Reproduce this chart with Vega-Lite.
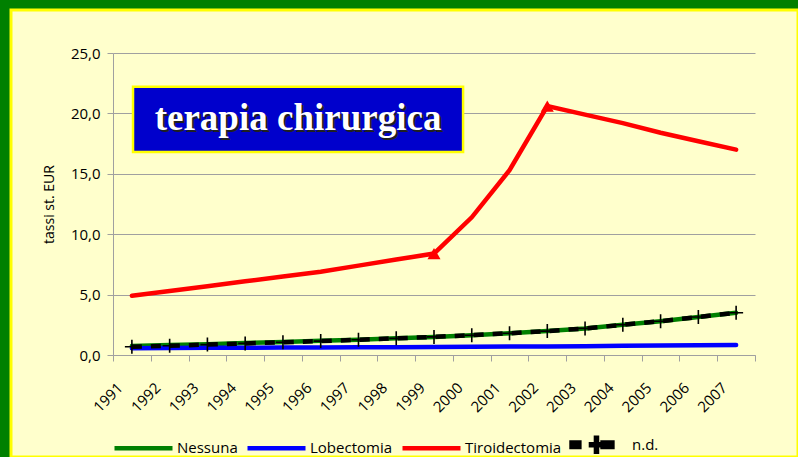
{
  "$schema": "https://vega.github.io/schema/vega-lite/v6.json",
  "autosize": {"type": "none"},
  "padding": {"left": 11, "top": 10, "right": 0, "bottom": 0},
  "width": 787,
  "height": 447,
  "background": "#008000",
  "config": {
    "view": {"fill": "#FFFFCC", "stroke": "#FFFF00", "strokeWidth": 3},
    "font": "Open Sans"
  },
  "datasets": {
    "series": [
      {"year": "1991", "series": "Nessuna", "value": 0.75},
      {"year": "1992", "series": "Nessuna", "value": 0.82},
      {"year": "1993", "series": "Nessuna", "value": 0.9},
      {"year": "1994", "series": "Nessuna", "value": 1.0},
      {"year": "1995", "series": "Nessuna", "value": 1.08},
      {"year": "1996", "series": "Nessuna", "value": 1.17},
      {"year": "1997", "series": "Nessuna", "value": 1.27},
      {"year": "1998", "series": "Nessuna", "value": 1.38},
      {"year": "1999", "series": "Nessuna", "value": 1.5},
      {"year": "2000", "series": "Nessuna", "value": 1.64},
      {"year": "2001", "series": "Nessuna", "value": 1.8},
      {"year": "2002", "series": "Nessuna", "value": 1.98},
      {"year": "2003", "series": "Nessuna", "value": 2.2},
      {"year": "2004", "series": "Nessuna", "value": 2.5},
      {"year": "2005", "series": "Nessuna", "value": 2.8},
      {"year": "2006", "series": "Nessuna", "value": 3.15},
      {"year": "2007", "series": "Nessuna", "value": 3.5},
      {"year": "1991", "series": "Lobectomia", "value": 0.55},
      {"year": "1992", "series": "Lobectomia", "value": 0.57},
      {"year": "1993", "series": "Lobectomia", "value": 0.59},
      {"year": "1994", "series": "Lobectomia", "value": 0.6},
      {"year": "1995", "series": "Lobectomia", "value": 0.62},
      {"year": "1996", "series": "Lobectomia", "value": 0.63},
      {"year": "1997", "series": "Lobectomia", "value": 0.64},
      {"year": "1998", "series": "Lobectomia", "value": 0.65},
      {"year": "1999", "series": "Lobectomia", "value": 0.67},
      {"year": "2000", "series": "Lobectomia", "value": 0.68},
      {"year": "2001", "series": "Lobectomia", "value": 0.7},
      {"year": "2002", "series": "Lobectomia", "value": 0.71},
      {"year": "2003", "series": "Lobectomia", "value": 0.73},
      {"year": "2004", "series": "Lobectomia", "value": 0.76},
      {"year": "2005", "series": "Lobectomia", "value": 0.78},
      {"year": "2006", "series": "Lobectomia", "value": 0.81},
      {"year": "2007", "series": "Lobectomia", "value": 0.83},
      {"year": "1991", "series": "Tiroidectomia", "value": 4.9},
      {"year": "1992", "series": "Tiroidectomia", "value": 5.3},
      {"year": "1993", "series": "Tiroidectomia", "value": 5.7},
      {"year": "1994", "series": "Tiroidectomia", "value": 6.1},
      {"year": "1995", "series": "Tiroidectomia", "value": 6.5},
      {"year": "1996", "series": "Tiroidectomia", "value": 6.9},
      {"year": "1997", "series": "Tiroidectomia", "value": 7.4},
      {"year": "1998", "series": "Tiroidectomia", "value": 7.9},
      {"year": "1999", "series": "Tiroidectomia", "value": 8.4},
      {"year": "2000", "series": "Tiroidectomia", "value": 11.4},
      {"year": "2001", "series": "Tiroidectomia", "value": 15.3},
      {"year": "2002", "series": "Tiroidectomia", "value": 20.6},
      {"year": "2003", "series": "Tiroidectomia", "value": 19.9},
      {"year": "2004", "series": "Tiroidectomia", "value": 19.2},
      {"year": "2005", "series": "Tiroidectomia", "value": 18.4},
      {"year": "2006", "series": "Tiroidectomia", "value": 17.7},
      {"year": "2007", "series": "Tiroidectomia", "value": 17.0},
      {"year": "1991", "series": "n.d.", "value": 0.68},
      {"year": "1992", "series": "n.d.", "value": 0.77},
      {"year": "1993", "series": "n.d.", "value": 0.86},
      {"year": "1994", "series": "n.d.", "value": 0.96},
      {"year": "1995", "series": "n.d.", "value": 1.05},
      {"year": "1996", "series": "n.d.", "value": 1.15},
      {"year": "1997", "series": "n.d.", "value": 1.26},
      {"year": "1998", "series": "n.d.", "value": 1.38},
      {"year": "1999", "series": "n.d.", "value": 1.5},
      {"year": "2000", "series": "n.d.", "value": 1.64},
      {"year": "2001", "series": "n.d.", "value": 1.8},
      {"year": "2002", "series": "n.d.", "value": 1.98},
      {"year": "2003", "series": "n.d.", "value": 2.2},
      {"year": "2004", "series": "n.d.", "value": 2.5},
      {"year": "2005", "series": "n.d.", "value": 2.8},
      {"year": "2006", "series": "n.d.", "value": 3.15},
      {"year": "2007", "series": "n.d.", "value": 3.5}
    ],
    "box": [
      {"label": "terapia chirurgica", "x0": "1991", "x1": "2000", "xt": "1995", "y0": 22.2, "y1": 16.8, "ym": 19.5}
    ]
  },
  "layer": [
    {
      "data": {"name": "series"},
      "transform": [{"filter": "datum.series !== 'n.d.'"}],
      "mark": {"type": "line", "strokeWidth": 4.5, "strokeCap": "round"},
      "encoding": {
        "x": {
          "field": "year", "type": "ordinal",
          "scale": {"type": "band", "domain": ["1991","1992","1993","1994","1995","1996","1997","1998","1999","2000","2001","2002","2003","2004","2005","2006","2007"], "range": [102, 744], "paddingInner": 0, "paddingOuter": 0},
          "axis": {
            "title": null, "offset": -102, "grid": false,
            "labelAngle": -45, "labelAlign": "right", "labelBaseline": "middle",
            "labelOffset": -12, "labelPadding": 24, "tickBand": "extent", "tickSize": 6,
            "domainColor": "#A0A0A0", "tickColor": "#A0A0A0",
            "labelFont": "Open Sans", "labelFontSize": 15, "labelColor": "#000000"
          }
        },
        "y": {
          "field": "value", "type": "quantitative",
          "scale": {"domain": [0, 25], "range": [345, 43], "nice": false},
          "axis": {
            "title": "tassi st. EUR", "offset": -102,
            "values": [0, 5, 10, 15, 20, 25],
            "labelExpr": "replace(format(datum.value, '.1f'), '.', ',')",
            "labelFont": "Open Sans", "labelFontSize": 15, "labelColor": "#000000", "labelPadding": 7,
            "tickSize": 6, "grid": true, "gridColor": "#A0A0A0", "domainColor": "#A0A0A0", "tickColor": "#A0A0A0",
            "titleFont": "Open Sans", "titleFontSize": 14, "titleFontWeight": "normal", "titleColor": "#000000", "titlePadding": 14
          }
        },
        "color": {
          "field": "series", "type": "nominal",
          "scale": {"domain": ["Nessuna", "Lobectomia", "Tiroidectomia", "n.d."], "range": ["#008000", "#0000FF", "#FF0000", "#000000"]},
          "legend": {
            "title": null, "orient": "none", "direction": "horizontal",
            "legendX": 101, "legendY": 403, "padding": 0,
            "symbolType": "stroke", "symbolSize": 3364, "symbolStrokeWidth": 4.5,
            "labelFont": "Open Sans", "labelFontSize": 15, "labelColor": "#000000",
            "labelOffset": 2, "columnPadding": 0,
            "encode": {
              "symbols": {
                "update": {
                  "shape": {"signal": "datum.value === 'n.d.' ? 'M-0.93,-0.075H-0.66V0.075H-0.93Z M0.14,-0.075H0.48V0.075H0.14Z M-0.26,-0.018H0.12V0.018H-0.26Z M-0.088,-0.24H-0.052V0.24H-0.088Z' : 'stroke'"},
                  "fill": {"signal": "datum.value === 'n.d.' ? '#000000' : 'transparent'"},
                  "stroke": {"signal": "datum.value === 'n.d.' ? 'transparent' : scale('color', datum.value)"},
                  "strokeWidth": {"value": 4.5}
                }
              }
            }
          }
        }
      }
    },
    {
      "data": {"name": "series"},
      "transform": [{"filter": "datum.series === 'n.d.'"}],
      "mark": {"type": "line", "strokeWidth": 4.5, "strokeDash": [10, 9]},
      "encoding": {
        "x": {"field": "year", "type": "ordinal"},
        "y": {"field": "value", "type": "quantitative"},
        "color": {"field": "series", "type": "nominal"}
      }
    },
    {
      "data": {"name": "series"},
      "transform": [{"filter": "datum.series === 'n.d.'"}],
      "mark": {"type": "point", "shape": "M-1,0H1M0,-1V1", "filled": false, "stroke": "#000000", "strokeWidth": 1.6, "size": 196, "opacity": 1},
      "encoding": {
        "x": {"field": "year", "type": "ordinal"},
        "y": {"field": "value", "type": "quantitative"}
      }
    },
    {
      "data": {"name": "series"},
      "transform": [{"filter": "datum.series === 'Tiroidectomia' && (datum.year === '1999' || datum.year === '2002')"}],
      "mark": {"type": "point", "shape": "triangle-up", "filled": true, "color": "#FF0000", "size": 170, "opacity": 1},
      "encoding": {
        "x": {"field": "year", "type": "ordinal"},
        "y": {"field": "value", "type": "quantitative"}
      }
    },
    {
      "data": {"name": "box"},
      "mark": {"type": "rect", "fill": "#0000CC", "stroke": "#FFFF00", "strokeWidth": 2.5},
      "encoding": {
        "x": {"field": "x0", "type": "ordinal", "bandPosition": 0.53},
        "x2": {"field": "x1", "bandPosition": 0.27},
        "y": {"field": "y0", "type": "quantitative"},
        "y2": {"field": "y1"}
      }
    },
    {
      "data": {"name": "box"},
      "mark": {"type": "text", "font": "Liberation Serif", "fontWeight": "bold", "fontSize": 37, "color": "#202020", "align": "center", "baseline": "middle", "dx": 2, "dy": 2},
      "encoding": {
        "x": {"field": "xt", "type": "ordinal", "bandPosition": 0.9},
        "y": {"field": "ym", "type": "quantitative"},
        "text": {"field": "label"}
      }
    },
    {
      "data": {"name": "box"},
      "mark": {"type": "text", "font": "Liberation Serif", "fontWeight": "bold", "fontSize": 37, "color": "#FFFFFF", "align": "center", "baseline": "middle"},
      "encoding": {
        "x": {"field": "xt", "type": "ordinal", "bandPosition": 0.9},
        "y": {"field": "ym", "type": "quantitative"},
        "text": {"field": "label"}
      }
    }
  ]
}
